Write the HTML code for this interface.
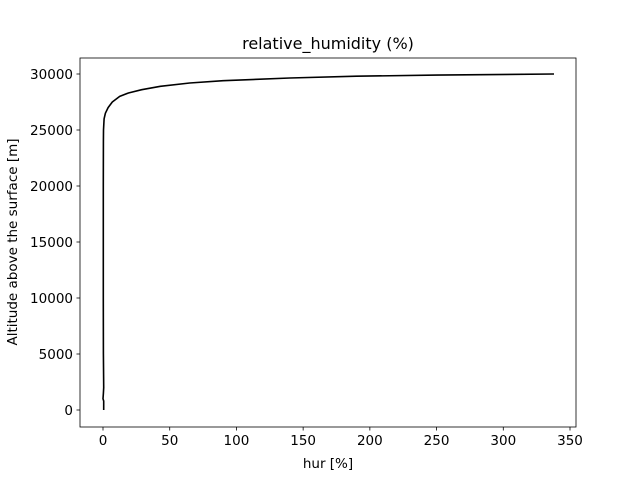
<!DOCTYPE html>
<html><head><meta charset="utf-8"><style>
body{margin:0;background:#fff;font-family:"Liberation Sans","DejaVu Sans",sans-serif}
text{font-family:"DejaVu Sans","Liberation Sans",sans-serif;font-size:13.5px;fill:#000}
</style></head><body>
<svg width="640" height="480" id="svg">
<rect width="640" height="480" fill="#fff"/>
<text x="328" y="49" text-anchor="middle" style="font-size:16px">relative_humidity (%)</text>
<text x="328" y="468" text-anchor="middle">hur [%]</text>
<text transform="translate(17,242) rotate(-90)" text-anchor="middle">Altitude above the surface [m]</text>
<g id="ticks"></g>
<path id="line" fill="none" stroke="#000" stroke-width="1.6" stroke-linejoin="round"/>
<rect x="80" y="58" width="496" height="369" fill="none" stroke="#000" stroke-width="0.8"/>
</svg>
<script>
const hurValues=[0.5,0.5,0,0.3,0.5,0.3,0.2,0.2,0.3,0.4,0.8,1.8,3.8,7,12.5,19,29,43,65,90,140,190,250,338];
const altValues=[0,800,1000,1500,2000,5000,10000,20000,24000,25000,26000,26500,27000,27500,28000,28300,28600,28900,29200,29400,29640,29800,29900,30000];
const xTicks=[0,50,100,150,200,250,300,350];
const yTicks=[0,5000,10000,15000,20000,25000,30000];
const X=v=>103+v*(467/350), Y=v=>410-v*(336/30000);
const ns="http://www.w3.org/2000/svg",g=document.getElementById('ticks');
function mk(t,a){const e=document.createElementNS(ns,t);for(const k in a)e.setAttribute(k,a[k]);g.appendChild(e);return e;}
xTicks.forEach(v=>{const l=mk('line',{x1:X(v),x2:X(v),y1:427,y2:430.5,stroke:'#000','stroke-width':0.8});


const t=mk('text',{x:X(v),y:445,'text-anchor':'middle'});t.textContent=v;

});
yTicks.forEach(v=>{const l=mk('line',{x1:76.5,x2:80,y1:Y(v),y2:Y(v),stroke:'#000','stroke-width':0.8});


const t=mk('text',{x:73,y:Y(v)+5,'text-anchor':'end'});t.textContent=v;

});
let d='';hurValues.forEach((v,i)=>{d+=(i?'L':'M')+X(v).toFixed(1)+','+Y(altValues[i]).toFixed(1);});
document.getElementById('line').setAttribute('d',d);
</script>
</body></html>
